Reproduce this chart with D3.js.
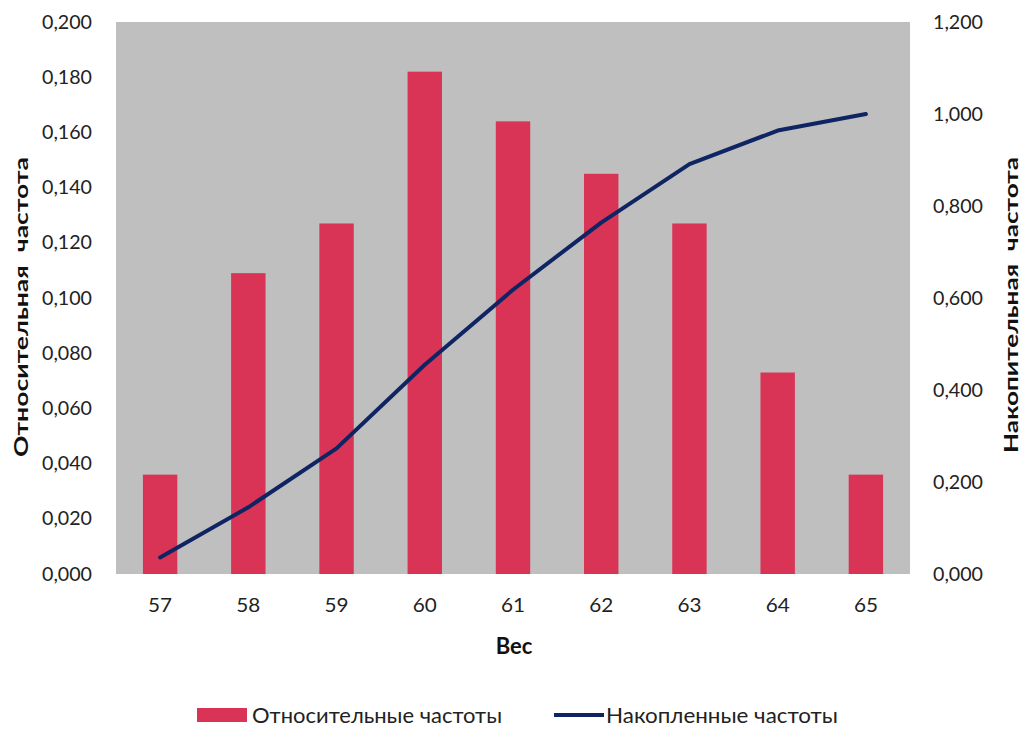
<!DOCTYPE html>
<html>
<head>
<meta charset="utf-8">
<script src="https://cdn.jsdelivr.net/npm/d3@7"></script>
<style>
  html, body { margin: 0; padding: 0; background: #fff; }
  svg { display: block; font-family: Lato, "Open Sans", sans-serif; }
</style>
</head>
<body>
<svg id="chart" width="1029" height="729"></svg>
<script>
// Weight categories
const weights = ["57", "58", "59", "60", "61", "62", "63", "64", "65"];
// Relative frequencies (left axis)
const relFreq = [0.036, 0.109, 0.127, 0.182, 0.164, 0.145, 0.127, 0.073, 0.036];
// Cumulative frequencies (right axis)
const cumFreq = [0.036, 0.145, 0.273, 0.455, 0.618, 0.764, 0.891, 0.964, 1.000];
// Axis ticks
const leftTicks = [0, 0.02, 0.04, 0.06, 0.08, 0.10, 0.12, 0.14, 0.16, 0.18, 0.20];
const rightTicks = [0, 0.2, 0.4, 0.6, 0.8, 1.0, 1.2];

const svg = d3.select("#chart");
const plot = { left: 116, right: 910, top: 22, bottom: 574 };

const x = d3.scaleBand().domain(weights).range([plot.left, plot.right]).paddingInner(0).paddingOuter(0);
const yL = d3.scaleLinear().domain([0, 0.2]).range([plot.bottom, plot.top]);
const yR = d3.scaleLinear().domain([0, 1.2]).range([plot.bottom, plot.top]);

const fmt = v => d3.format(".3f")(v).replace(".", ",");
const textColor = "#222";

// Plot background
svg.append("rect")
  .attr("x", plot.left).attr("y", plot.top)
  .attr("width", plot.right - plot.left).attr("height", plot.bottom - plot.top)
  .attr("fill", "#bfbfbf");

// Bars
const barW = x.bandwidth() * 0.39;
svg.append("g").selectAll("rect").data(weights).join("rect")
  .attr("x", (d) => x(d) + x.bandwidth() / 2 - barW / 2)
  .attr("y", (d, i) => yL(relFreq[i]))
  .attr("width", barW)
  .attr("height", (d, i) => yL(0) - yL(relFreq[i]))
  .attr("fill", "#d93356");

// Cumulative line
const line = d3.line()
  .x((d, i) => x(weights[i]) + x.bandwidth() / 2)
  .y(d => yR(d));
svg.append("path").datum(cumFreq)
  .attr("d", line)
  .attr("fill", "none")
  .attr("stroke", "#0f2462")
  .attr("stroke-width", 4)
  .attr("stroke-linecap", "round")
  .attr("stroke-linejoin", "round");

// Left axis
const axL = svg.append("g").attr("transform", `translate(${plot.left - 24},0)`)
  .call(d3.axisLeft(yL).tickValues(leftTicks).tickFormat(fmt).tickSize(0).tickPadding(0));
axL.select(".domain").remove();
axL.selectAll("text").attr("font-size", 19).attr("fill", textColor).attr("font-family", "Lato, sans-serif")
  .attr("textLength", 50).attr("lengthAdjust", "spacingAndGlyphs");

// Right axis
const axR = svg.append("g").attr("transform", `translate(${plot.right + 23},0)`)
  .call(d3.axisRight(yR).tickValues(rightTicks).tickFormat(fmt).tickSize(0).tickPadding(0));
axR.select(".domain").remove();
axR.selectAll("text").attr("font-size", 19).attr("fill", textColor).attr("font-family", "Lato, sans-serif")
  .attr("textLength", 50).attr("lengthAdjust", "spacingAndGlyphs");

// Bottom axis
const axB = svg.append("g").attr("transform", `translate(0,${plot.bottom + 38})`)
  .call(d3.axisBottom(x).tickSize(0).tickPadding(0));
axB.select(".domain").remove();
axB.selectAll("text").attr("font-size", 20).attr("fill", textColor).attr("font-family", "Lato, sans-serif")
  .attr("dy", "0")
  .attr("textLength", 24).attr("lengthAdjust", "spacingAndGlyphs");

// Axis titles
svg.append("text")
  .attr("transform", `translate(28,307) rotate(-90)`)
  .attr("text-anchor", "middle")
  .attr("font-size", 18).attr("font-weight", "bold").attr("fill", "#111")
  .attr("xml:space", "preserve")
  .attr("textLength", 300).attr("lengthAdjust", "spacingAndGlyphs")
  .text("Относительная  частота");

svg.append("text")
  .attr("transform", `translate(1018,305) rotate(-90)`)
  .attr("text-anchor", "middle")
  .attr("font-size", 18).attr("font-weight", "bold").attr("fill", "#111")
  .attr("xml:space", "preserve")
  .attr("textLength", 296).attr("lengthAdjust", "spacingAndGlyphs")
  .text("Накопительная  частота");

svg.append("text")
  .attr("x", 514).attr("y", 654)
  .attr("text-anchor", "middle")
  .attr("font-size", 22).attr("font-weight", "bold").attr("fill", "#111")
  .text("Вес");

// Legend
const leg = svg.append("g").attr("font-size", 22).attr("fill", textColor);
leg.append("rect").attr("x", 197).attr("y", 708).attr("width", 50).attr("height", 14).attr("fill", "#d93356");
leg.append("text").attr("x", 252).attr("y", 723)
  .attr("textLength", 250).attr("lengthAdjust", "spacingAndGlyphs")
  .text("Относительные частоты");
leg.append("line").attr("x1", 554).attr("x2", 604).attr("y1", 715).attr("y2", 715)
  .attr("stroke", "#0f2462").attr("stroke-width", 4);
leg.append("text").attr("x", 606).attr("y", 723)
  .attr("textLength", 232).attr("lengthAdjust", "spacingAndGlyphs")
  .text("Накопленные частоты");
</script>
</body>
</html>
